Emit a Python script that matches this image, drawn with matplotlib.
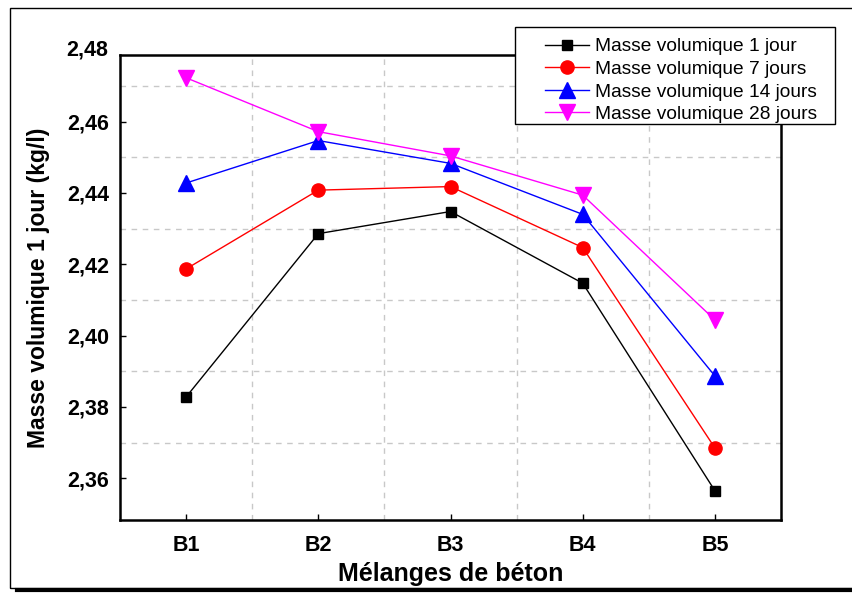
import matplotlib
matplotlib.use("Agg")
import matplotlib.pyplot as plt
from matplotlib.ticker import FuncFormatter, FixedLocator
from matplotlib.patches import Rectangle
from matplotlib.lines import Line2D

# data
melanges = ["B1", "B2", "B3", "B4", "B5"]
mv_1j = [2.3828, 2.4286, 2.4348, 2.4147, 2.3565]
mv_7j = [2.4187, 2.4408, 2.4418, 2.4247, 2.3685]
mv_14j = [2.4428, 2.4547, 2.4483, 2.4340, 2.3887]
mv_28j = [2.4723, 2.4572, 2.4504, 2.4394, 2.4044]
y_ticks = [2.36, 2.38, 2.40, 2.42, 2.44, 2.46, 2.48]

plt.rcParams['font.family'] = ['Liberation Sans', 'DejaVu Sans']

fig = plt.figure(figsize=(8.53, 5.93), dpi=100)
ax = fig.add_axes([0.1407, 0.1231, 0.7749, 0.7842])

x = list(range(1, len(melanges) + 1))
ax.plot(x, mv_1j, color='black', lw=1, marker='s', ms=7.5, label='Masse volumique 1 jour')
ax.plot(x, mv_7j, color='red', lw=1, marker='o', ms=9.5, label='Masse volumique 7 jours')
ax.plot(x, mv_14j, color='blue', lw=1, marker='^', ms=11, label='Masse volumique 14 jours')
ax.plot(x, mv_28j, color='magenta', lw=1, marker='v', ms=11, label='Masse volumique 28 jours')

ax.set_xlim(0.5, 5.5)
ax.set_ylim(2.3483, 2.4787)
ax.set_xticks(x)
ax.set_xticklabels(melanges, fontsize=15.5, fontweight='bold')
ax.set_yticks(y_ticks[:-1])
fmt = FuncFormatter(lambda v, p: f"{v:.2f}".replace('.', ','))
ax.yaxis.set_major_formatter(fmt)
for lab in ax.get_yticklabels():
    lab.set_fontsize(15.5)
    lab.set_fontweight('bold')
# top label sits just above the frame in the original
ax.text(-12 / 661, y_ticks[-1], fmt(y_ticks[-1], None), transform=ax.get_yaxis_transform(),
        ha='right', va='center', fontsize=15.5, fontweight='bold', clip_on=False)

ax.xaxis.set_minor_locator(FixedLocator([1.5, 2.5, 3.5, 4.5]))
ax.yaxis.set_minor_locator(FixedLocator([2.37, 2.39, 2.41, 2.43, 2.45, 2.47]))
ax.grid(which='minor', color='#c8c8c8', ls=(0, (4, 4)), lw=1)
ax.grid(which='major', visible=False)
ax.tick_params(which='major', direction='in', length=4, width=1)
ax.tick_params(axis='y', pad=8)
ax.tick_params(axis='x', pad=11)
ax.tick_params(which='minor', length=0)
for s in ax.spines.values():
    s.set_linewidth(1.8)

ax.set_xlabel("Mélanges de béton", fontsize=18, fontweight='bold', labelpad=4)
ax.set_ylabel("Masse volumique 1 jour (kg/l)", fontsize=16.5, fontweight='bold', labelpad=12)

# legend box drawn separately so the left padding can be wider than the top
handles, labels = ax.get_legend_handles_labels()
leg = fig.legend(handles, labels, loc='upper left', bbox_to_anchor=(545 / 853, 1 - 38 / 593),
                 fontsize=13.8, frameon=False, handlelength=2.3, handletextpad=0.3,
                 borderpad=0, labelspacing=0.27, borderaxespad=0)
leg.set_zorder(5)
fig.patches.append(Rectangle((515 / 853, 1 - 124 / 593), 320 / 853, 97 / 593, transform=fig.transFigure,
                             facecolor='white', edgecolor='black', lw=1, zorder=4))

# outer frame with shadow
fig.patches.append(Rectangle((10 / 853, 1 - 588 / 593), 1, 580 / 593, transform=fig.transFigure,
                             fill=False, edgecolor='black', lw=1))
fig.lines.append(Line2D([17 / 853, 1], [1 - 590 / 593, 1 - 590 / 593], transform=fig.transFigure,
                        color='black', lw=3))

fig.savefig("out.png", dpi=100)
